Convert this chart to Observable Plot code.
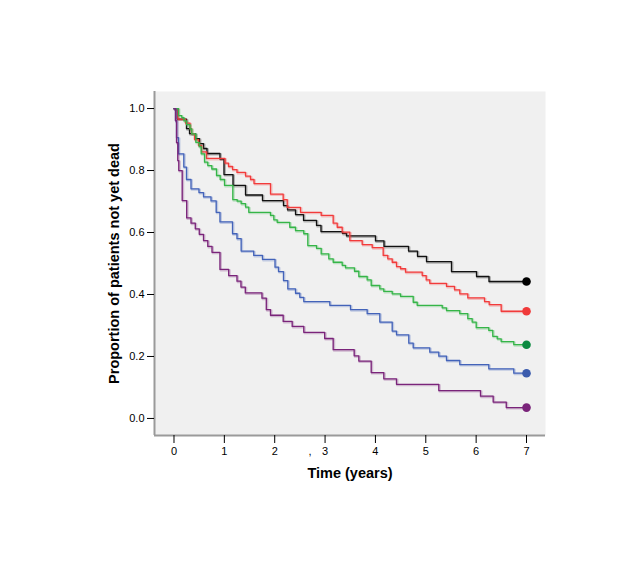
<!DOCTYPE html>
<html><head><meta charset="utf-8">
<script src="https://cdn.jsdelivr.net/npm/d3@7"></script>
<script src="https://cdn.jsdelivr.net/npm/@observablehq/plot@0.6"></script>
<style>body{margin:0;background:#fff;}</style>
</head><body><div id="chart"></div>
<script>
// ---- data ----
const groups = ["Group 1", "Group 2", "Group 3", "Group 4", "Group 5"];
const lineColors = ["#111111", "#f23b3b", "#35b548", "#4363b9", "#7a247a"];
const markerColors = ["#000000", "#f03a3a", "#0b8a40", "#3b5bad", "#7a247a"];

const times1 = [0.064,0.248,0.308,0.427,0.506,0.586,0.655,0.913,0.993,1.172,1.420,1.757,2.174,2.254,2.413,2.572,2.830,2.919,3.346,3.425,4.001,4.170,4.657,4.835,5.014,5.510,6.007,6.255];
const surv1  = [0.966,0.935,0.919,0.903,0.887,0.871,0.855,0.837,0.787,0.752,0.721,0.703,0.687,0.673,0.658,0.639,0.623,0.603,0.597,0.589,0.573,0.555,0.540,0.523,0.506,0.474,0.458,0.442];

const times2 = [0.075,0.228,0.318,0.347,0.407,0.486,0.546,0.645,1.013,1.082,1.162,1.251,1.420,1.519,1.589,1.916,2.168,2.248,2.512,2.923,3.161,3.241,3.340,3.491,3.737,3.936,4.154,4.245,4.333,4.418,4.498,4.597,4.929,5.008,5.079,5.411,5.570,5.675,5.834,6.166,6.259,6.497];
const surv2  = [0.966,0.953,0.935,0.919,0.900,0.881,0.860,0.839,0.824,0.813,0.803,0.794,0.782,0.771,0.758,0.724,0.706,0.681,0.665,0.655,0.630,0.617,0.601,0.574,0.561,0.551,0.526,0.515,0.504,0.490,0.483,0.472,0.461,0.447,0.436,0.426,0.415,0.402,0.389,0.377,0.367,0.346];

const times3 = [0.089,0.155,0.199,0.248,0.318,0.353,0.433,0.500,0.540,0.606,0.671,0.751,0.844,0.917,1.003,1.168,1.255,1.334,1.420,1.485,1.916,1.982,2.049,2.299,2.413,2.577,2.657,2.830,2.923,3.074,3.161,3.340,3.405,3.584,3.670,3.836,3.916,4.087,4.166,4.333,4.498,4.750,4.829,5.326,5.411,5.675,5.834,5.921,6.001,6.251,6.330,6.418,6.497,6.747];
const surv3  = [0.977,0.971,0.960,0.948,0.934,0.918,0.891,0.877,0.854,0.827,0.816,0.805,0.784,0.771,0.752,0.706,0.701,0.693,0.682,0.665,0.655,0.641,0.633,0.617,0.606,0.596,0.558,0.549,0.531,0.515,0.504,0.494,0.486,0.475,0.458,0.447,0.429,0.418,0.410,0.402,0.394,0.375,0.365,0.357,0.348,0.338,0.322,0.311,0.293,0.284,0.265,0.257,0.248,0.238];

const times4 = [0.030,0.050,0.089,0.195,0.248,0.338,0.496,0.586,0.735,0.838,0.913,1.162,1.251,1.334,1.583,1.757,2.006,2.075,2.174,2.260,2.413,2.498,2.577,3.094,3.505,3.836,4.087,4.333,4.418,4.662,4.750,5.079,5.258,5.411,5.675,6.251,6.747];
const surv4  = [0.961,0.906,0.854,0.811,0.771,0.741,0.729,0.715,0.702,0.665,0.634,0.596,0.580,0.540,0.526,0.513,0.488,0.474,0.445,0.418,0.404,0.391,0.377,0.365,0.351,0.338,0.311,0.282,0.270,0.243,0.228,0.214,0.201,0.187,0.174,0.160,0.146];

const times5 = [0.030,0.050,0.075,0.095,0.163,0.252,0.338,0.423,0.502,0.586,0.671,0.755,0.913,1.086,1.251,1.330,1.416,1.747,1.833,1.916,2.168,2.347,2.577,2.992,3.161,3.578,3.670,3.916,4.166,4.418,5.258,6.086,6.338,6.598];
const surv5  = [0.961,0.890,0.832,0.800,0.703,0.647,0.630,0.612,0.594,0.574,0.555,0.536,0.481,0.461,0.443,0.424,0.405,0.388,0.351,0.333,0.313,0.297,0.278,0.258,0.222,0.202,0.185,0.148,0.128,0.110,0.090,0.072,0.053,0.035];

const endTime = 7;
const xTicks = [0, 1, 2, 3, 4, 5, 6, 7];
const yTicks = [0, 0.2, 0.4, 0.6, 0.8, 1.0];
const xTitle = "Time (years)";
const yTitle = "Proportion of patients not yet dead";
const strayMarks = [{t: 2.70, text: ","}];

// ---- build tables ----
const allTimes = [times1, times2, times3, times4, times5];
const allSurv = [surv1, surv2, surv3, surv4, surv5];
const series = groups.map((g, i) => {
  const rows = [{group: g, t: 0, v: 1}];
  allTimes[i].forEach((t, j) => rows.push({group: g, t, v: allSurv[i][j]}));
  const last = allSurv[i][allSurv[i].length - 1];
  rows.push({group: g, t: endTime, v: last});
  return {group: g, rows, end: [{group: g, t: endTime, v: last}], line: lineColors[i], marker: markerColors[i]};
});

const xDomain = [-0.387, 7.377];
const yDomain = [-0.055, 1.055];

const marks = [
  Plot.frame({fill: "#f0f0f0", stroke: "none"}),
];
series.forEach(s => {
  marks.push(Plot.line(s.rows, {x: "t", y: "v", curve: "step-after", stroke: s.line, strokeWidth: 2.4, strokeOpacity: 0.28, dx: 0.8, dy: 0.8}));
  marks.push(Plot.line(s.rows, {x: "t", y: "v", curve: "step-after", stroke: s.line, strokeWidth: 1.3}));
});
series.forEach(s => {
  marks.push(Plot.dot(s.end, {x: "t", y: "v", r: 4.3, fill: s.marker, stroke: "none"}));
});
marks.push(
  Plot.ruleX([xDomain[0]], {stroke: "#9a9a9a", strokeWidth: 2}),
  Plot.ruleY([yDomain[0]], {stroke: "#9a9a9a", strokeWidth: 2}),
  Plot.axisY({ticks: yTicks, tickFormat: d => d.toFixed(1), tickSize: 7, tickPadding: 3, fontSize: 11, label: null, stroke: "#000"}),
  Plot.axisX({ticks: xTicks, tickFormat: d => String(d), tickSize: 8, tickPadding: 4, fontSize: 11, label: null, stroke: "#000"}),
  Plot.text(strayMarks, {x: "t", text: "text", frameAnchor: "bottom", dy: 19, fontSize: 11, fill: "#000"}),
  Plot.text([xTitle], {frameAnchor: "bottom", dy: 38, fontSize: 14.5, fontWeight: "bold", fill: "#000", lineAnchor: "middle", textAnchor: "middle"}),
  Plot.text([yTitle], {frameAnchor: "left", dx: -40, rotate: -90, fontSize: 14.5, fontWeight: "bold", fill: "#000", lineAnchor: "middle", textAnchor: "middle"})
);

const chart = Plot.plot({
  width: 625,
  height: 580,
  marginLeft: 154,
  marginRight: 80,
  marginTop: 91,
  marginBottom: 145,
  style: {fontFamily: "'Liberation Sans', Arial, sans-serif", fontSize: "11px", background: "#fff", color: "#000"},
  x: {domain: xDomain},
  y: {domain: yDomain},
  marks
});
document.getElementById("chart").appendChild(chart);
</script>
</body></html>
